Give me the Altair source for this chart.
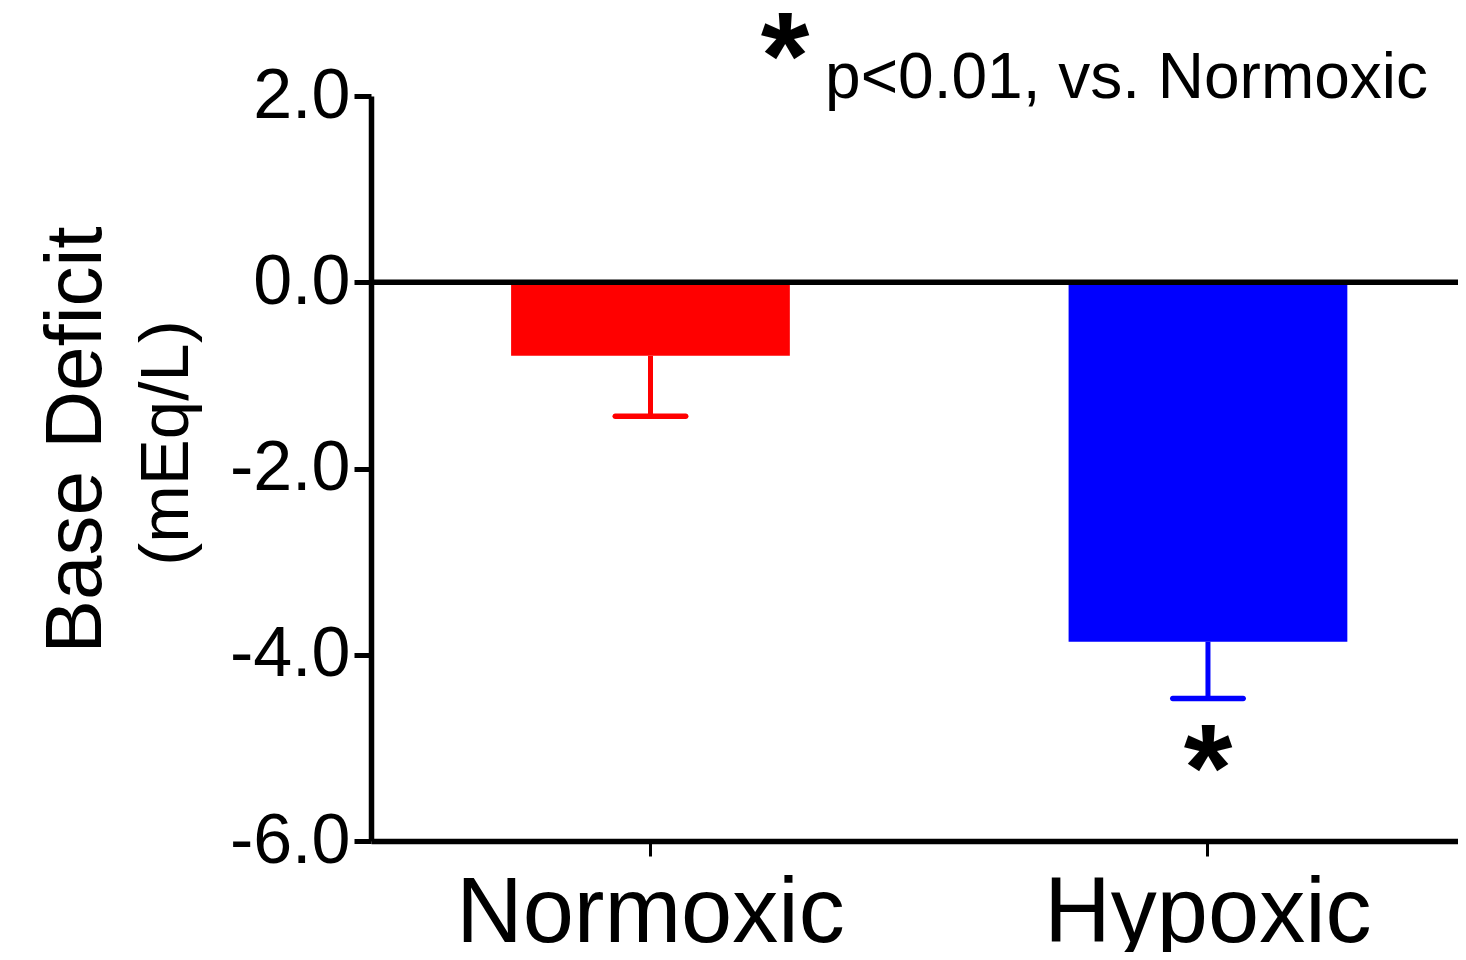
import altair as alt
import pandas as pd

categories = ["Normoxic", "Hypoxic"]
means = [-0.79, -3.86]
errors = [0.65, 0.61]
colors = ["#FF0000", "#0000FF"]

df = pd.DataFrame({
    "group": categories,
    "mean": means,
    "low": [m - e for m, e in zip(means, errors)],
})

FONT = "Liberation Sans"

x_enc = alt.X(
    "group:N",
    sort=categories,
    scale=alt.Scale(paddingInner=0.5, paddingOuter=0.2249, align=0.5587),
    axis=alt.Axis(
        title=None,
        labelAngle=0,
        labelFontSize=92,
        labelFont=FONT,
        labelColor="black",
        labelPadding=12,
        labelLimit=0,
        tickSize=15,
        tickWidth=3,
        tickColor="black",
        domainColor="black",
        domainWidth=5.5,
    ),
)

y_scale = alt.Scale(domain=[-6, 2], nice=False, zero=False)

color_enc = alt.Color(
    "group:N",
    scale=alt.Scale(domain=categories, range=colors),
    legend=None,
)

bars = alt.Chart(df).mark_bar(stroke=None, opacity=1).encode(
    x=x_enc,
    y=alt.Y(
        "mean:Q",
        scale=y_scale,
        axis=alt.Axis(
            title=None,
            values=[-6, -4, -2, 0, 2],
            labelExpr="(datum.value < 0 ? '-' : '') + format(abs(datum.value), '.1f')",
            labelFontSize=70,
            labelFont=FONT,
            labelColor="black",
            labelPadding=4,
            labelLimit=0,
            tickSize=17,
            tickWidth=5,
            tickColor="black",
            domainColor="black",
            domainWidth=5.5,
            grid=False,
        ),
    ),
    y2=alt.datum(0),
    color=color_enc,
)

err_line = alt.Chart(df).mark_rule(strokeWidth=5, opacity=1).encode(
    x=alt.X("group:N", sort=categories),
    y=alt.Y("mean:Q", scale=y_scale),
    y2="low:Q",
    color=color_enc,
)

err_cap = alt.Chart(df).mark_tick(size=76, thickness=5.5, cornerRadius=2.75, opacity=1).encode(
    x=alt.X("group:N", sort=categories),
    y=alt.Y("low:Q", scale=y_scale),
    color=color_enc,
)

zero_line = alt.Chart(pd.DataFrame({"z": [0]})).mark_rule(
    color="black", strokeWidth=5.5
).encode(y=alt.Y("z:Q", scale=y_scale))

star_df = pd.DataFrame({"group": ["Hypoxic"], "ypos": [-5.27], "label": ["*"]})
star = alt.Chart(star_df).mark_text(
    fontSize=125, fontWeight="bold", font=FONT, color="black",
    align="center", baseline="middle",
).encode(
    x=alt.X("group:N", sort=categories),
    y=alt.Y("ypos:Q", scale=y_scale),
    text="label:N",
)

top_star = alt.Chart(pd.DataFrame({"t": ["*"]})).mark_text(
    fontSize=125, fontWeight="bold", font=FONT, color="black",
    align="center", baseline="middle",
).encode(x=alt.value(414), y=alt.value(-35), text="t:N")

note = alt.Chart(pd.DataFrame({"t": ["p<0.01, vs. Normoxic"]})).mark_text(
    fontSize=64, font=FONT, color="black", align="right", baseline="alphabetic",
).encode(x=alt.value(1057), y=alt.value(2), text="t:N")

title1 = alt.Chart(pd.DataFrame({"t": ["Base Deficit"]})).mark_text(
    fontSize=80, font=FONT, color="black", align="center", baseline="middle", angle=270,
).encode(x=alt.value(-294), y=alt.value(344), text="t:N")

title2 = alt.Chart(pd.DataFrame({"t": ["(mEq/L)"]})).mark_text(
    fontSize=69, font=FONT, color="black", align="center", baseline="middle", angle=270,
).encode(x=alt.value(-204), y=alt.value(347), text="t:N")

chart = alt.layer(
    bars, err_line, err_cap, zero_line, star, top_star, note, title1, title2
).properties(
    width=1087,
    height=745,
    autosize=alt.AutoSizeParams(type="none"),
    padding={"left": 363, "top": 88, "right": 0, "bottom": 111},
).configure_view(stroke=None).configure_axis(grid=False)

chart.save("out.html", embed_options={"renderer": "svg", "actions": False})
